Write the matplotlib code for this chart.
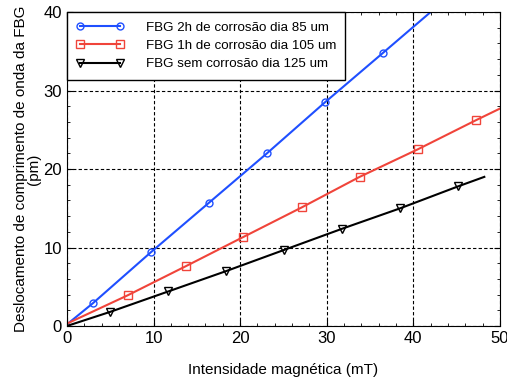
import numpy as np
import matplotlib
matplotlib.use("Agg")
import matplotlib.pyplot as plt
from matplotlib.ticker import MultipleLocator

plt.rcParams["font.family"] = ["Liberation Sans", "DejaVu Sans"]

# line data (first point = start of line, markers on the rest except the end)
x_85 = [0, 3.0, 9.7, 16.4, 23.1, 29.8, 36.5, 42.0]
y_85 = [0.2, 2.9, 9.4, 15.7, 22.0, 28.5, 34.8, 40.0]

x_105 = [0, 7.0, 13.7, 20.3, 27.1, 33.8, 40.5, 47.2, 50.0]
y_105 = [0.3, 3.9, 7.6, 11.3, 15.1, 19.0, 22.5, 26.2, 27.7]

x_125 = [0, 5.0, 11.7, 18.4, 25.1, 31.8, 38.5, 45.2, 48.2]
y_125 = [0.0, 1.8, 4.4, 7.0, 9.7, 12.4, 15.0, 17.8, 19.0]

labels = ["FBG 2h de corrosão dia 85 um",
          "FBG 1h de corrosão dia 105 um",
          "FBG sem corrosão dia 125 um"]

fig, ax = plt.subplots(figsize=(5.07, 3.89), dpi=100)
fig.subplots_adjust(left=0.132, right=0.986, top=0.969, bottom=0.162)

ax.plot(x_85, y_85, color="#1f4fff", lw=1.5, marker="o", ms=5, mfc="none",
        markevery=list(range(1, len(x_85) - 1)), label=labels[0])
ax.plot(x_105, y_105, color="#f0443a", lw=1.5, marker="s", ms=6, mfc="none",
        markevery=list(range(1, len(x_105) - 1)), label=labels[1])
ax.plot(x_125, y_125, color="black", lw=1.5, marker="v", ms=6, mfc="none",
        markevery=list(range(1, len(x_125) - 1)), label=labels[2])

ax.set_xlim(0, 50)
ax.set_ylim(0, 40)
ax.xaxis.set_major_locator(MultipleLocator(10))
ax.yaxis.set_major_locator(MultipleLocator(10))
ax.xaxis.set_minor_locator(MultipleLocator(2))
ax.yaxis.set_minor_locator(MultipleLocator(2))
ax.tick_params(which="both", direction="in", top=True, right=True, labelsize=12)
ax.tick_params(which="major", length=4)
ax.tick_params(which="minor", length=2.5)
ax.grid(True, which="major", color="black", ls=(0, (3, 2)), lw=0.8)

ax.set_xlabel("Intensidade magnética (mT)", fontsize=11, labelpad=12)
ax.set_ylabel("Deslocamento de comprimento de onda da FBG\n(pm)", fontsize=11,
              labelpad=2, linespacing=0.9)

leg = ax.legend(loc="upper left", numpoints=2, handlelength=3.6, fontsize=9.6,
                fancybox=False, framealpha=1, edgecolor="black",
                borderaxespad=0, handletextpad=1.6, borderpad=0.7,
                labelspacing=0.45)
leg.get_frame().set_linewidth(1.0)

plt.savefig("out.png", dpi=100)
